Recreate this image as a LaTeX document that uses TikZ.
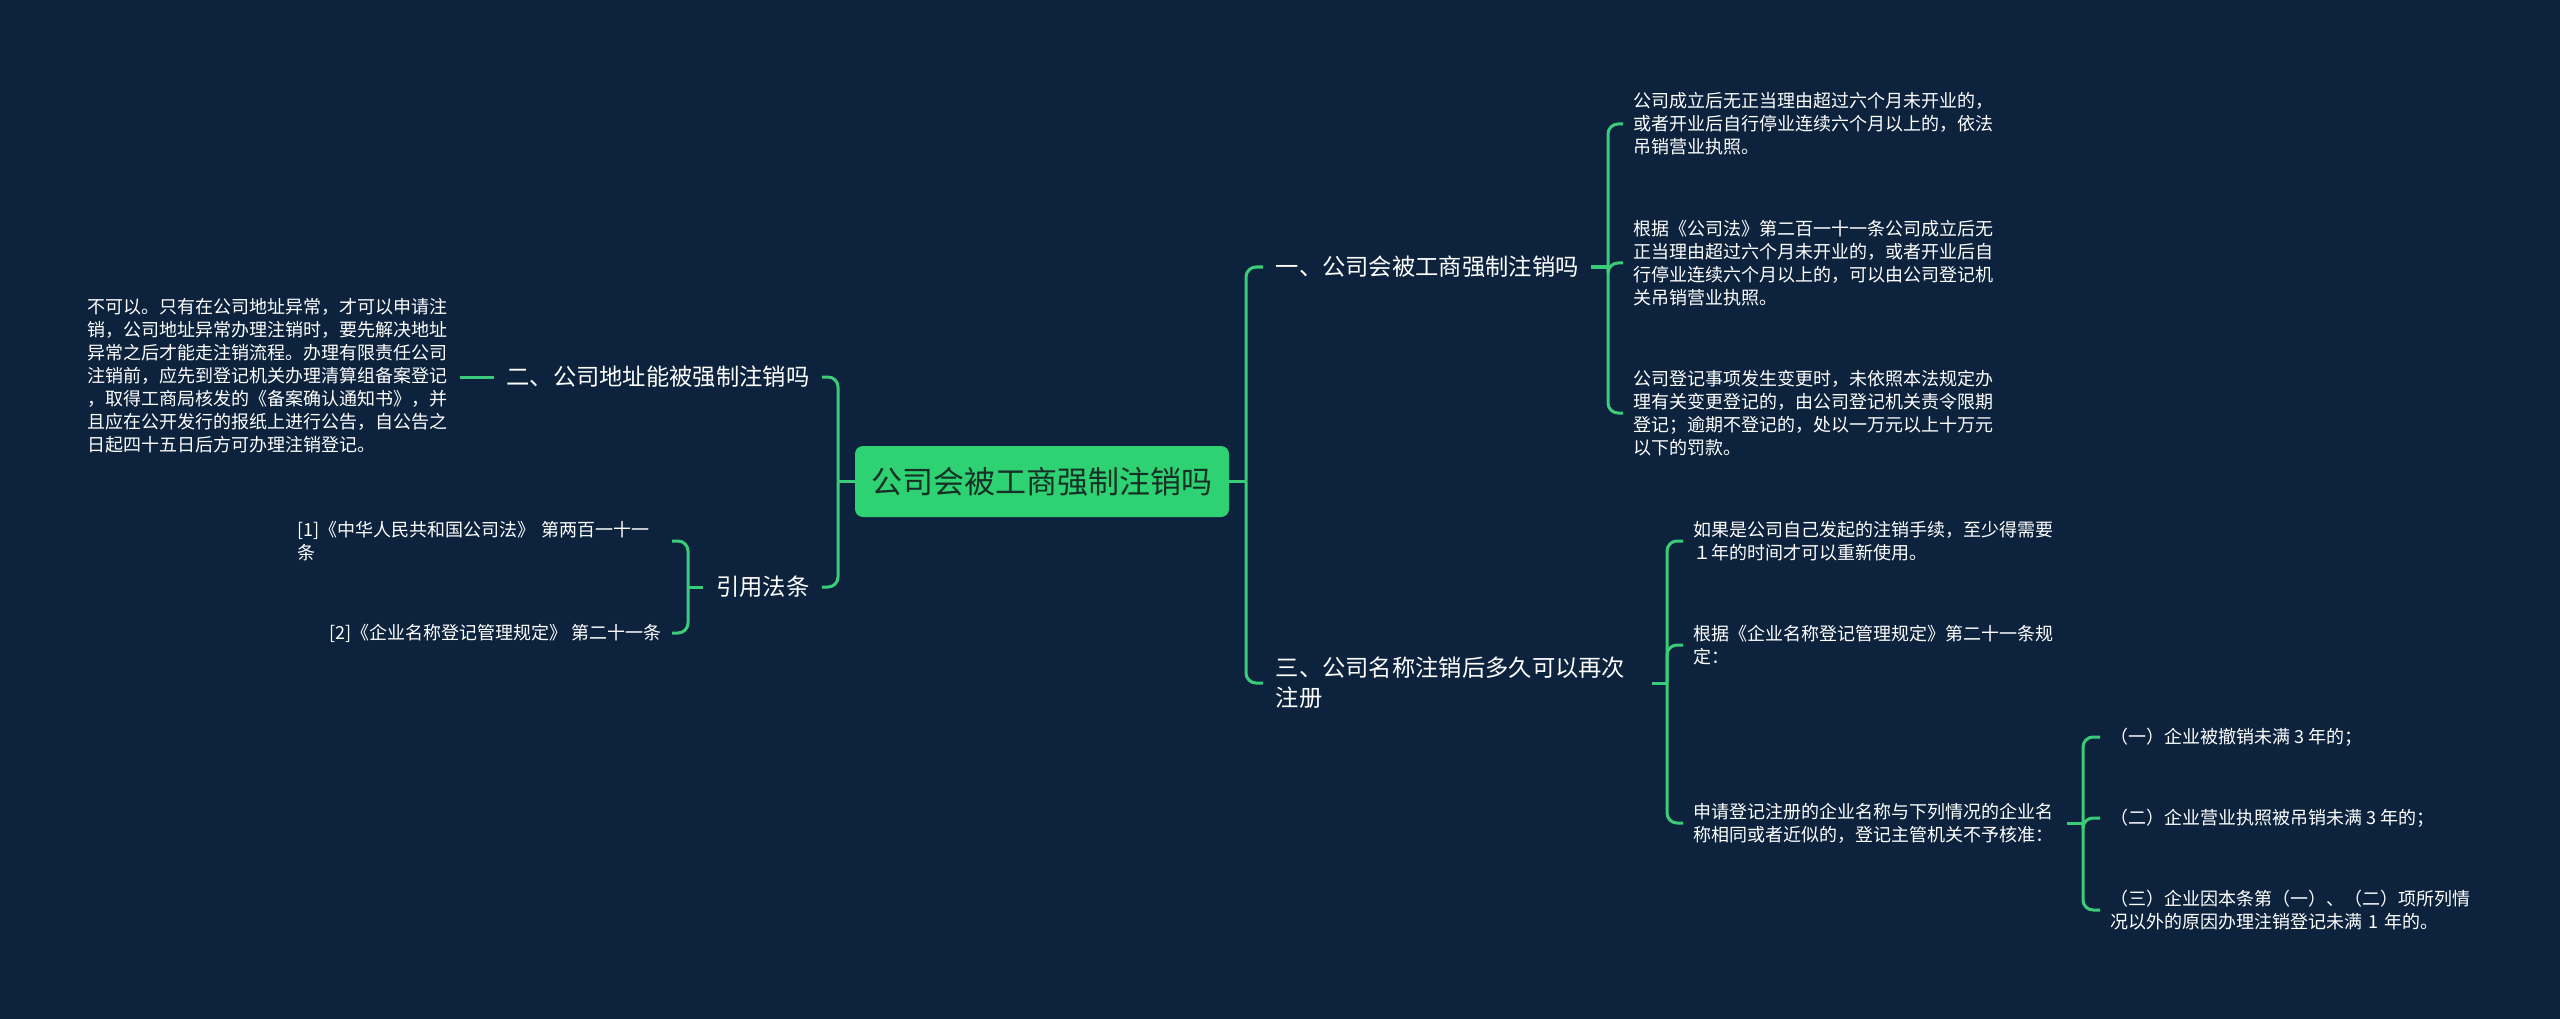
\documentclass[tikz,border=0pt]{standalone}
\usepackage{fontspec}
\setmainfont{Noto Sans CJK SC}
\usetikzlibrary{calc}
\definecolor{bg}{RGB}{13,35,61}
\definecolor{ln}{RGB}{58,204,120}
\definecolor{rootfill}{RGB}{46,210,115}
\definecolor{roottext}{RGB}{22,48,38}
\begin{document}
\begin{tikzpicture}[x=1pt,y=-1pt,
  conn/.style={draw=ln, line width=3pt, rounded corners=10pt},
  rootbox/.style={fill=rootfill, rounded corners=8pt, minimum width=374pt, minimum height=71pt, text=roottext, font=\fontsize{31}{36}\selectfont, inner sep=0pt},
  branch/.style={text=white, font=\fontsize{23.3}{30}\selectfont, inner xsep=12.5pt, inner ysep=4pt, align=left},
  leaf/.style={text=white, font=\fontsize{18}{23}\selectfont, inner xsep=10pt, inner ysep=4pt, align=left},
  para/.style={text=white, font=\fontsize{18}{23}\selectfont, inner xsep=10pt, inner ysep=4pt, align=left}]
\fill[bg] (0,0) rectangle (2560,1019);
\useasboundingbox (0,0) rectangle (2560,1019);

% root
\node[rootbox] (root) at (1042,481.5) {公司会被工商强制注销吗};

% branches
\node[branch, anchor=west] (b1) at (1263,267) {一、公司会被工商强制注销吗};
\node[branch, anchor=west, text width=364pt] (b3) at (1263,683) {三、公司名称注销后多久可以再次\\注册};
\node[branch, anchor=east] (b2) at (822,377) {二、公司地址能被强制注销吗};
\node[branch, anchor=east] (b4) at (822,587) {引用法条};

% right branch 1 children
\node[leaf, anchor=west, text width=370pt] (c1) at (1623,124) {公司成立后无正当理由超过六个月未开业的，\\或者开业后自行停业连续六个月以上的，依法\\吊销营业执照。};
\node[leaf, anchor=west, text width=370pt] (c2) at (1623,263) {根据《公司法》第二百一十一条公司成立后无\\正当理由超过六个月未开业的，或者开业后自\\行停业连续六个月以上的，可以由公司登记机\\关吊销营业执照。};
\node[leaf, anchor=west, text width=370pt] (c3) at (1623,413) {公司登记事项发生变更时，未依照本法规定办\\理有关变更登记的，由公司登记机关责令限期\\登记；逾期不登记的，处以一万元以上十万元\\以下的罚款。};

% right branch 3 children
\node[leaf, anchor=west, text width=364pt] (d1) at (1683,541) {如果是公司自己发起的注销手续，至少得需要\\１年的时间才可以重新使用。};
\node[leaf, anchor=west, text width=364pt] (d2) at (1683,645) {根据《企业名称登记管理规定》第二十一条规\\定：};
\node[leaf, anchor=west, text width=364pt] (d3) at (1683,823) {申请登记注册的企业名称与下列情况的企业名\\称相同或者近似的，登记主管机关不予核准：};

% grandchildren
\node[leaf, anchor=west] (g1) at (2100,737) {（一）企业被撤销未满 3 年的；};
\node[leaf, anchor=west] (g2) at (2100,818) {（二）企业营业执照被吊销未满 3 年的；};
\node[leaf, anchor=west, text width=380pt] (g3) at (2100,910) {（三）企业因本条第（一）、（二）项所列情\\况以外的原因办理注销登记未满 1 年的。};

% left side
\node[para, anchor=east, text width=362pt] (p) at (460,376) {不可以。只有在公司地址异常，才可以申请注\\销，公司地址异常办理注销时，要先解决地址\\异常之后才能走注销流程。办理有限责任公司\\注销前，应先到登记机关办理清算组备案登记\\，取得工商局核发的《备案确认通知书》，并\\且应在公开发行的报纸上进行公告，自公告之\\日起四十五日后方可办理注销登记。};
\node[leaf, anchor=east, text width=364pt] (e1) at (672,541) {[1]《中华人民共和国公司法》 第两百一十一\\条};
\node[leaf, anchor=east] (e2) at (672,633) {[2]《企业名称登记管理规定》 第二十一条};

% junctions
\coordinate (jr) at (1246,481.5);
\coordinate (jl) at (838,481.5);
\coordinate (j1) at (1608,267);
\coordinate (j3) at (1667,683);
\coordinate (j4) at (2083,823);
\coordinate (j5) at (688,587);

% connectors
\draw[conn] (root.east) -- (jr);
\draw[conn] (jr) |- (b1.west);
\draw[conn] (jr) |- (b3.west);
\draw[conn] (root.west) -- (jl);
\draw[conn] (jl) |- (b2.east);
\draw[conn] (jl) |- (b4.east);

\draw[conn] (b1.east) -- (j1);
\draw[conn] (j1) |- (c1.west);
\draw[conn] (j1) |- (c2.west);
\draw[conn] (j1) |- (c3.west);

\draw[conn] (b3.east) -- (j3);
\draw[conn] (j3) |- (d1.west);
\draw[conn] (j3) |- (d2.west);
\draw[conn] (j3) |- (d3.west);

\draw[conn] (d3.east) -- (j4);
\draw[conn] (j4) |- (g1.west);
\draw[conn] (j4) |- (g2.west);
\draw[conn] (j4) |- (g3.west);

\draw[conn] (b2.west) -- (p.east |- b2.west);

\draw[conn] (b4.west) -- (j5);
\draw[conn] (j5) |- (e1.east);
\draw[conn] (j5) |- (e2.east);
\end{tikzpicture}
\end{document}
